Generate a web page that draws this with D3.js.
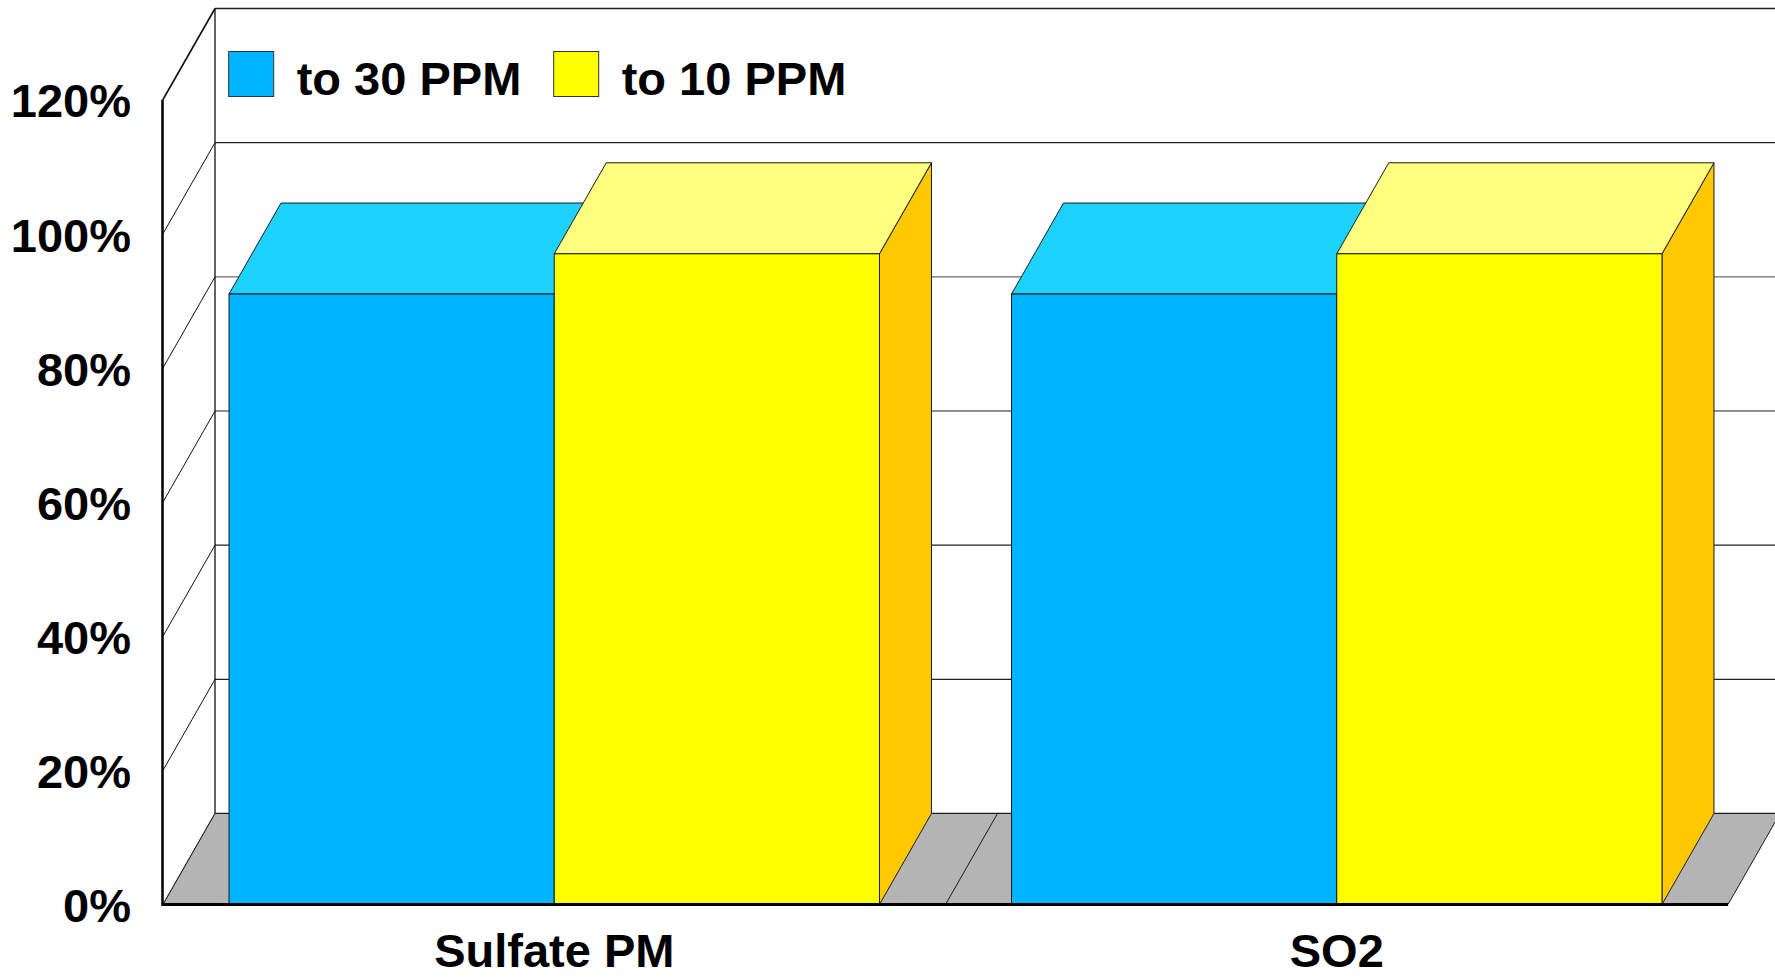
<!DOCTYPE html>
<html>
<head>
<meta charset="utf-8">
<script src="https://cdn.jsdelivr.net/npm/d3@7"></script>
<style>
  html, body { margin: 0; padding: 0; background: #ffffff; }
  svg { display: block; }
  text { font-family: "Liberation Sans", Arial, Helvetica, sans-serif; font-weight: bold; fill: #000; }
</style>
</head>
<body>
<svg id="chart" width="1775" height="977"></svg>
<script>
// ---- data ----
const categories = ["Sulfate PM", "SO2"];
const series = ["to 30 PPM", "to 10 PPM"];
const valuesTo30 = [91, 91];
const valuesTo10 = [97, 97];
const yTickValues = [0, 20, 40, 60, 80, 100, 120];
const yTickLabels = ["0%", "20%", "40%", "60%", "80%", "100%", "120%"];

const seriesValues = [valuesTo30, valuesTo10];
const seriesFront = ["#00B4FF", "#FFFF00"];
const seriesTop = ["#1ED2FF", "#FFFF80"];
const seriesSide = ["#0090D0", "#FFC800"];

// ---- layout ----
const W = 1775, H = 977;
const DX = 52, DY = 91;           // 3-D depth offset
const left = 163, right = 1728;
const svg = d3.select("#chart");

const y = d3.scaleLinear().domain([0, 120]).range([904.5, 99.5]);
const x0 = d3.scaleBand().domain(categories).range([left, right]).paddingInner(0).paddingOuter(0);
const x1 = d3.scaleBand().domain(series).range([0, x0.bandwidth()]).paddingInner(0).paddingOuter(0.203);

const y0 = y(0), yTop = y(120);
const edge = "#1a1a1a";

// back wall
svg.append("rect")
  .attr("x", left + DX).attr("y", yTop - DY)
  .attr("width", W - (left + DX) + 5).attr("height", y0 - yTop)
  .attr("fill", "#fff");

// back wall gridlines
svg.append("g").selectAll("line").data(yTickValues).join("line")
  .attr("x1", left + DX).attr("x2", W + 5)
  .attr("y1", d => y(d) - DY).attr("y2", d => y(d) - DY)
  .attr("stroke", d => (d === 60 || d === 80) ? "#6a6a6a" : "#222")
  .attr("stroke-width", d => d === 120 ? 1.6 : 1.3);

// left wall
svg.append("polygon")
  .attr("points", [[left, yTop], [left + DX, yTop - DY], [left + DX, y0 - DY], [left, y0]].join(" "))
  .attr("fill", "#fff");
svg.append("g").selectAll("line").data(yTickValues).join("line")
  .attr("x1", left).attr("x2", left + DX)
  .attr("y1", d => y(d)).attr("y2", d => y(d) - DY)
  .attr("stroke", "#111")
  .attr("stroke-width", d => d === 120 ? 1.6 : 1);
svg.append("line")
  .attr("x1", left + DX).attr("x2", left + DX)
  .attr("y1", yTop - DY).attr("y2", y0 - DY)
  .attr("stroke", "#111").attr("stroke-width", 1.3);

// floor
svg.append("polygon")
  .attr("points", [[left, y0], [right, y0], [right + DX, y0 - DY], [left + DX, y0 - DY]].join(" "))
  .attr("fill", "#B4B4B4").attr("stroke", edge).attr("stroke-width", 1);
svg.append("g").selectAll("line").data(categories.slice(1)).join("line")
  .attr("x1", d => x0(d)).attr("x2", d => x0(d) + DX)
  .attr("y1", y0).attr("y2", y0 - DY)
  .attr("stroke", edge).attr("stroke-width", 1);

// bars
const bars = [];
categories.forEach((c, ci) => {
  series.forEach((s, si) => {
    bars.push({ c, s, si, v: seriesValues[si][ci] });
  });
});
const gBars = svg.append("g");
bars.forEach(b => {
  const bx = x0(b.c) + x1(b.s), bw = x1.bandwidth();
  const top = y(b.v), bot = y(0);
  const g = gBars.append("g");
  g.append("polygon")
    .attr("points", [[bx + bw, top], [bx + bw + DX, top - DY], [bx + bw + DX, bot - DY], [bx + bw, bot]].join(" "))
    .attr("fill", seriesSide[b.si]).attr("stroke", edge).attr("stroke-width", 1).attr("stroke-linejoin", "round");
  g.append("polygon")
    .attr("points", [[bx, top], [bx + bw, top], [bx + bw + DX, top - DY], [bx + DX, top - DY]].join(" "))
    .attr("fill", seriesTop[b.si]).attr("stroke", edge).attr("stroke-width", 1).attr("stroke-linejoin", "round");
  g.append("rect")
    .attr("x", bx).attr("y", top).attr("width", bw).attr("height", bot - top)
    .attr("fill", seriesFront[b.si]).attr("stroke", edge).attr("stroke-width", 1);
});

// front axis lines
svg.append("line").attr("x1", left - 0.5).attr("x2", left - 0.5).attr("y1", yTop).attr("y2", y0 + 1)
  .attr("stroke", "#000").attr("stroke-width", 2.5);
svg.append("line").attr("x1", left - 1.5).attr("x2", right).attr("y1", y0).attr("y2", y0)
  .attr("stroke", "#000").attr("stroke-width", 3);

// y axis labels
const yAxis = d3.axisLeft(y).tickValues(yTickValues)
  .tickFormat((d, i) => yTickLabels[i]).tickSize(0).tickPadding(32);
const gy = svg.append("g").attr("transform", `translate(${left},0)`).call(yAxis);
gy.select(".domain").remove();
gy.selectAll("text").attr("dy", "0.37em")
  .style("font-family", '"Liberation Sans", Arial, sans-serif').style("font-weight", "bold")
  .style("font-size", "47px").attr("fill", "#000");

// x axis labels
const xAxis = d3.axisBottom(x0).tickSize(0).tickPadding(29);
const gx = svg.append("g").attr("transform", `translate(0,${y0})`).call(xAxis);
gx.select(".domain").remove();
gx.selectAll("text")
  .style("font-family", '"Liberation Sans", Arial, sans-serif').style("font-weight", "bold")
  .style("font-size", "47px").attr("fill", "#000");

// legend
const legendX = d3.scaleBand().domain(series).range([228.7, 228.7 + 2 * 325]);
const lg = svg.append("g").selectAll("g").data(series).join("g")
  .attr("transform", d => `translate(${legendX(d)},51.5)`);
lg.append("rect").attr("width", 45).attr("height", 45)
  .attr("fill", (d, i) => seriesFront[i]).attr("stroke", "#333").attr("stroke-width", 1);
lg.append("text").attr("x", 68).attr("y", 43.5)
  .style("font-size", "47px").text(d => d);
</script>
</body>
</html>
